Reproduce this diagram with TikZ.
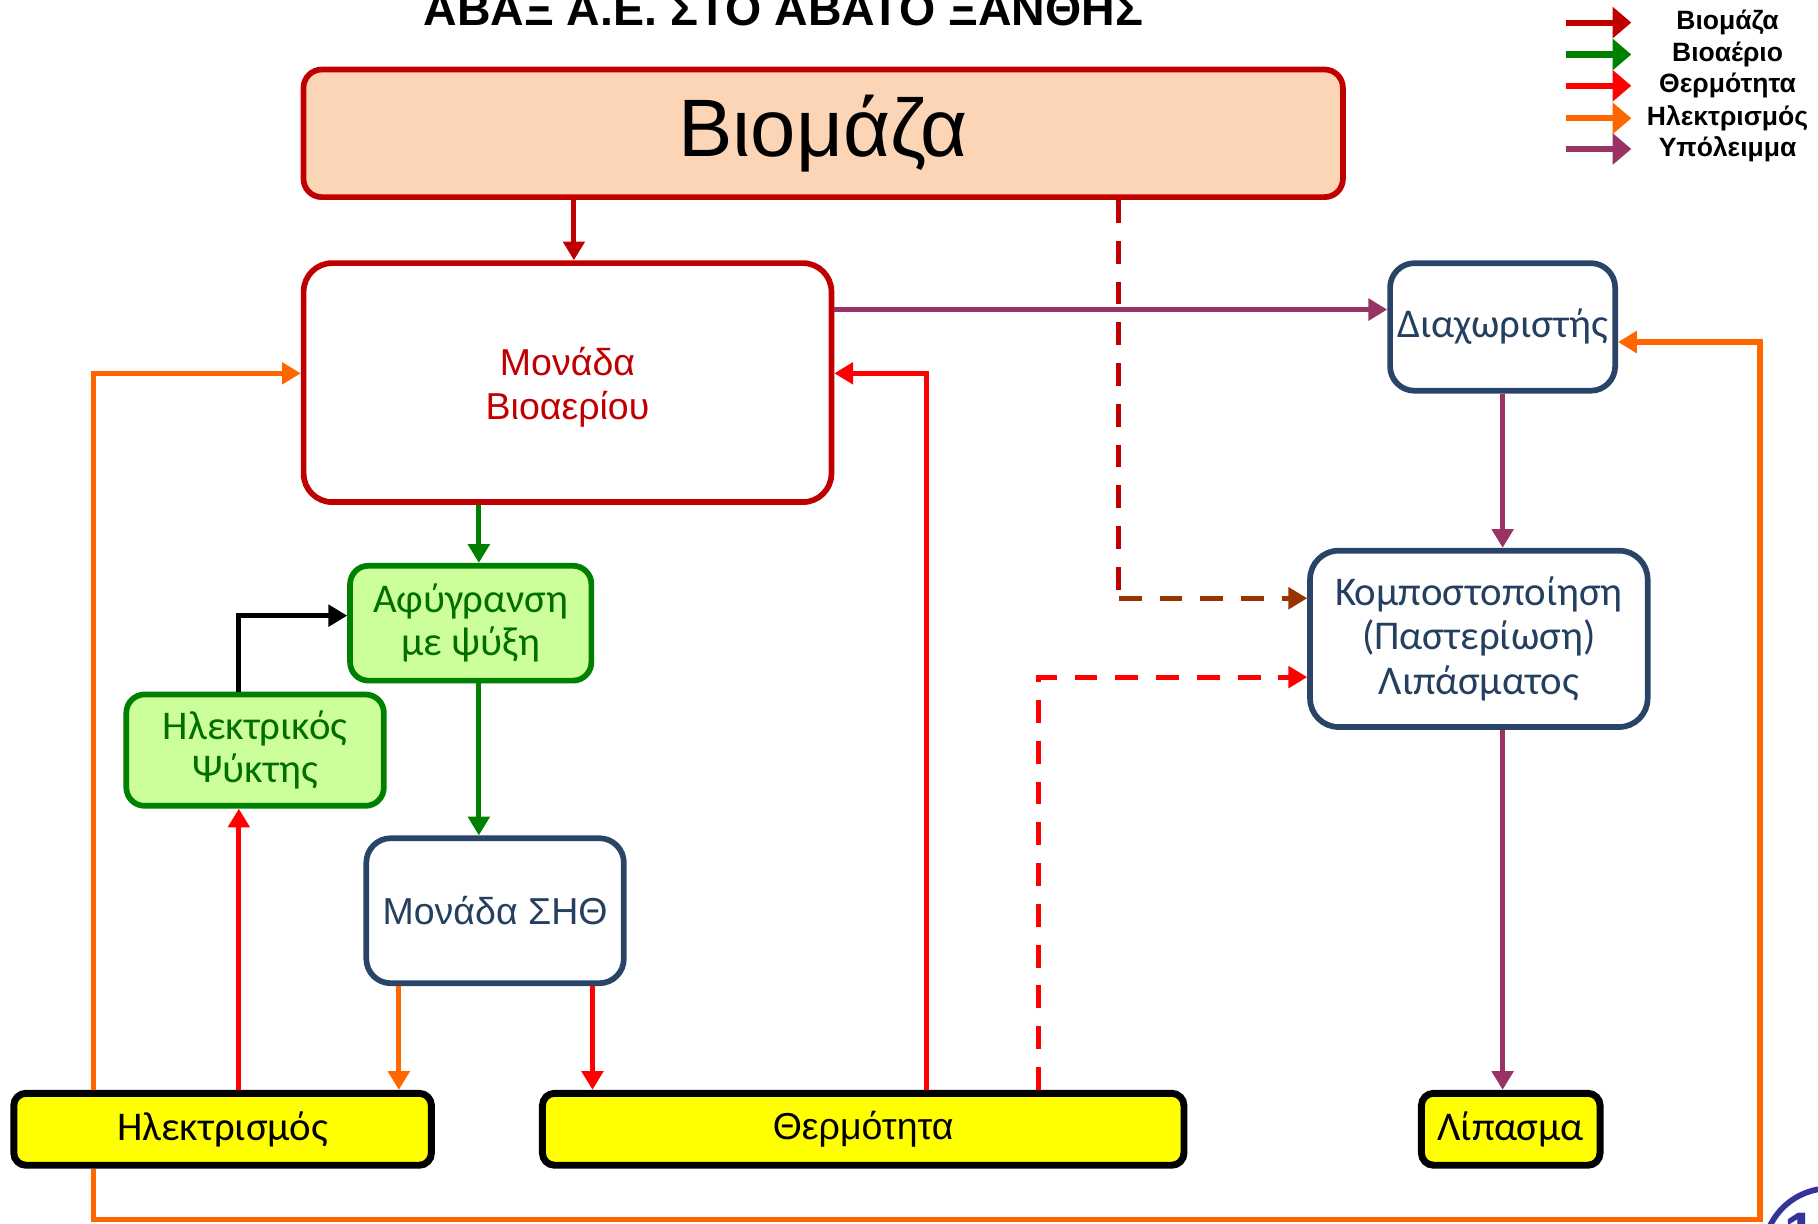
\documentclass[tikz,border=0pt]{standalone}
\usepackage{fontspec}
\setmainfont{Liberation Sans}
\newfontfamily\hum{Carlito}
\usetikzlibrary{arrows.meta}
\definecolor{bmred}{HTML}{C00000}
\definecolor{gasgreen}{HTML}{008000}
\definecolor{heatred}{HTML}{FF0000}
\definecolor{elorange}{HTML}{FF6600}
\definecolor{respurple}{HTML}{993366}
\definecolor{dbrown}{HTML}{993300}
\definecolor{dblue}{HTML}{2A4468}
\definecolor{tblue}{HTML}{243F60}
\definecolor{peach}{HTML}{FBD5B5}
\definecolor{lgreen}{HTML}{CCFF99}
\definecolor{tgreen}{HTML}{006E00}
\definecolor{pgblue}{HTML}{333399}
\definecolor{yfill}{HTML}{FFFF00}
\tikzset{
  box/.style={draw, line width=1.4pt, inner sep=0pt, align=center},
  ybox/.style={draw=black, fill=yfill, line width=1.7pt, rounded corners=3pt, inner sep=0pt, align=center, minimum height=0.62cm, font=\fontsize{10}{11}\selectfont},
  conn/.style={line width=1.25pt, -{Triangle[width=5.2pt,length=4.6pt]}},
  plain/.style={line width=1.25pt},
  dsh/.style={dash pattern=on 5.6pt off 4.4pt},
  legarrow/.style={line width=1.5pt, -{Triangle[width=7.5pt,length=4.6pt]}},
  legtext/.style={font=\fontsize{6.5}{7}\selectfont\bfseries, inner sep=0pt}
}
\begin{document}
\begin{tikzpicture}[x=0.01cm, y=-0.01cm]
\clip (0,0) rectangle (1568,1055);
\useasboundingbox (0,0) rectangle (1568,1055);

% title
\node[font=\fontsize{11.4}{12}\selectfont\bfseries, anchor=base, inner sep=0pt] (title) at (675.5,22) {ΑΒΑΞ Α.Ε. ΣΤΟ ΑΒΑΤΟ ΞΑΝΘΗΣ};

% legend
\foreach \i/\yy/\col/\txt in {1/19.5/bmred/Βιομάζα, 2/47/gasgreen/Βιοαέριο, 3/74/heatred/Θερμότητα, 4/102/elorange/Ηλεκτρισμός, 5/128.5/respurple/Υπόλειμμα}{
  \coordinate (ls\i) at (1351,\yy);
  \coordinate (le\i) at (1407,\yy);
  \draw[legarrow, draw=\col] (ls\i) -- (le\i);
  \node[legtext] (lt\i) at (1490,\yy) {\txt};
}

% boxes
\node[box, draw=bmred, fill=peach, rounded corners=4.5pt, minimum width=8.96cm, minimum height=1.10cm, font=\fontsize{20}{22}\selectfont] (bio) at (710,115) {Βιομάζα};
\node[box, draw=bmred, fill=white, rounded corners=7pt, minimum width=4.55cm, minimum height=2.06cm, text=bmred, font=\fontsize{9.2}{10.8}\selectfont] (mon) at (489.5,330) {};
\node[text=bmred, font=\fontsize{9.2}{10.8}\selectfont, align=center, inner sep=0pt] (montxt) at (489.5,334) {Μονάδα\\Βιοαερίου};
\node[box, draw=dblue, fill=white, rounded corners=6pt, minimum width=1.94cm, minimum height=1.10cm, text=tblue, font=\hum\fontsize{10}{11}\selectfont] (diax) at (1296,282) {Διαχωριστής};
\node[box, draw=dblue, fill=white, rounded corners=7pt, minimum width=2.91cm, minimum height=1.52cm, text=tblue, font=\hum\fontsize{10}{11}\selectfont] (komp) at (1275.5,551) {Κομποστοποίηση\\(Παστερίωση)\\Λιπάσματος};
\node[box, draw=gasgreen, fill=lgreen, rounded corners=4.5pt, minimum width=2.08cm, minimum height=0.99cm, text=tgreen, font=\hum\fontsize{10}{10.6}\selectfont] (afy) at (406,537.5) {Αφύγρανση\\με ψύξη};
\node[box, draw=gasgreen, fill=lgreen, rounded corners=4.5pt, minimum width=2.22cm, minimum height=0.96cm, text=tgreen, font=\hum\fontsize{10}{10.6}\selectfont] (psy) at (220,647) {Ηλεκτρικός\\Ψύκτης};
\node[box, draw=dblue, fill=white, rounded corners=6pt, minimum width=2.22cm, minimum height=1.25cm, text=tblue, font=\fontsize{9.2}{11}\selectfont] (sith) at (427,785.5) {Μονάδα ΣΗΘ};
\node[ybox, minimum width=3.60cm, font=\hum\fontsize{10}{11}\selectfont] (ilek) at (192,974) {Ηλεκτρισμός};
\node[ybox, minimum width=5.53cm, font=\fontsize{9.2}{11}\selectfont] (therm) at (744.5,974) {Θερμότητα};
\node[ybox, minimum width=1.54cm, font=\hum\fontsize{10}{11}\selectfont] (lip) at (1303,974) {Λίπασμα};

% helper coordinates
\coordinate (x495) at (495,0);
\coordinate (x965) at (965,0);
\coordinate (bcorner) at (965,516);
\coordinate (y267) at (0,267);
\coordinate (x1296) at (1296,0);
\coordinate (eloopL) at (81,1052);
\coordinate (eloopR) at (1518,1052);
\coordinate (eloopT) at (1518,295);
\coordinate (eupper) at (81,322);
\coordinate (hupper) at (799,322);
\coordinate (hdash) at (896,584);
\coordinate (x206) at (206,0);
\coordinate (bcool) at (206,531);
\coordinate (x413) at (413,0);
\coordinate (x344) at (344,0);
\coordinate (x511) at (511,0);

% connectors
\draw[conn, draw=bmred] (bio.south -| x495) -- (mon.north -| x495);
\draw[plain, dsh, draw=bmred] (bio.south -| x965) -- (bcorner);
\draw[conn, dsh, draw=dbrown] (bcorner) -- (bcorner -| komp.west);
\draw[conn, draw=respurple] (mon.east |- y267) -- (diax.west |- y267);
\draw[conn, draw=respurple] (diax.south -| x1296) -- (komp.north -| x1296);
\draw[conn, draw=respurple] (komp.south -| x1296) -- (lip.north -| x1296);
\draw[conn, draw=elorange] (ilek.south -| eloopL) -- (eloopL) -- (eloopR) -- (eloopT) -- (eloopT -| diax.east);
\draw[conn, draw=elorange] (ilek.north -| eupper) -- (eupper) -- (eupper -| mon.west);
\draw[conn, draw=heatred] (therm.north -| hupper) -- (hupper) -- (hupper -| mon.east);
\draw[conn, dsh, draw=heatred] (therm.north -| hdash) -- (hdash) -- (hdash -| komp.west);
\draw[conn, draw=heatred] (ilek.north -| x206) -- (psy.south -| x206);
\draw[conn, draw=black] (psy.north -| bcool) -- (bcool) -- (bcool -| afy.west);
\draw[conn, draw=gasgreen] (mon.south -| x413) -- (afy.north -| x413);
\draw[conn, draw=gasgreen] (afy.south -| x413) -- (sith.north -| x413);
\draw[conn, draw=elorange] (sith.south -| x344) -- (ilek.north -| x344);
\draw[conn, draw=heatred] (sith.south -| x511) -- (therm.north -| x511);

% page number badge
\draw[draw=pgblue, line width=1.4pt, fill=white] (1578,1082) circle [radius=0.57cm];
\node[anchor=north west, inner sep=0pt, text=pgblue, font=\fontsize{14}{14}\selectfont\bfseries] (pg) at (1538,1046) {15};
\end{tikzpicture}
\end{document}
